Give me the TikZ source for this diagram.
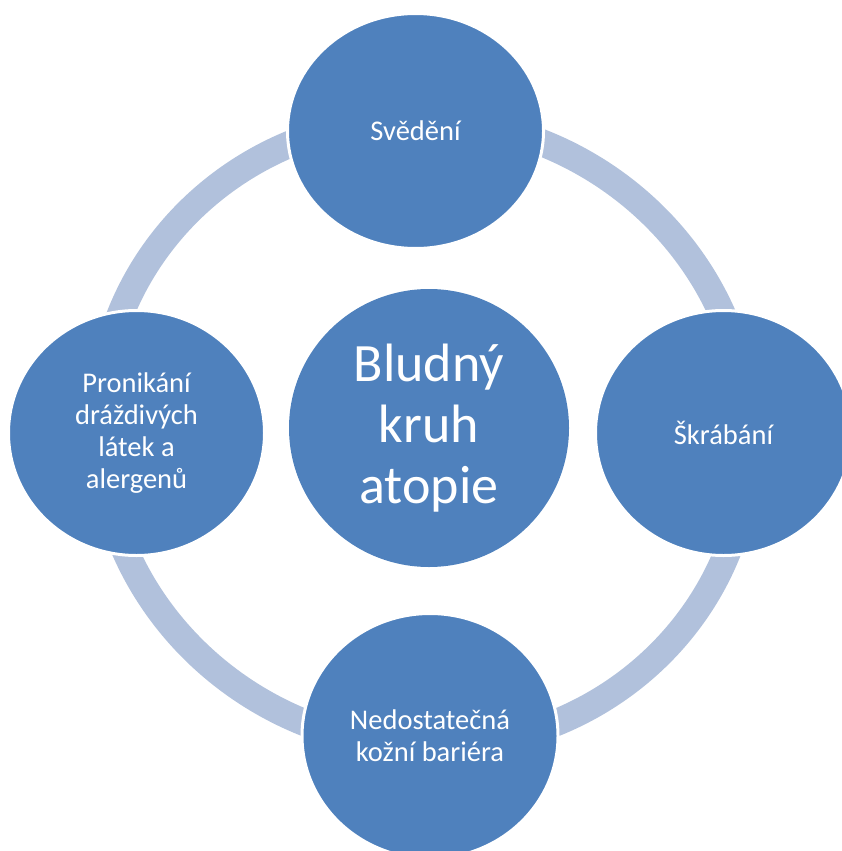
\documentclass[tikz,border=0pt]{standalone}
\usepackage{fontspec}
\setmainfont{Carlito}
\usetikzlibrary{shapes.geometric}
\definecolor{kruhblue}{RGB}{79,129,189}
\definecolor{ringblue}{RGB}{177,193,220}

\begin{document}
\begin{tikzpicture}[x=1pt, y=-1pt,
        bubble/.style={ellipse, fill=kruhblue, draw=white, line width=3pt,
            inner sep=0pt, text=white, align=center,
            font=\fontsize{28.5}{32.2}\selectfont},
        ringline/.style={draw=ringblue, line width=27pt}]
                \useasboundingbox (0,0) rectangle (842,851);
                % the ring under the bubbles
                \begin{scope}[shift={(424,433)}, xslant=-0.022]
                    \draw[ringline] (0,0) ellipse [x radius=325pt, y radius=314pt];
                \end{scope}
                % centre
                \node[bubble, draw=none, minimum width=280pt, minimum height=278pt,
                    font=\fontsize{54}{61}\selectfont] (kruh) at (429,428) {Bludný\\kruh\\atopie};
                % the four steps
                \foreach \name/\x/\y/\h/\txt in {
                        sved/415.5/131/235/Svědění,
                        skrab/723.5/433/245/Škrábání,
                        bariera/430/736/245/{Nedostatečná\\kožní bariéra},
                        pronik/136.5/433/245/{Pronikání\\dráždivých\\látek a\\alergenů}}{
                    \node[bubble, minimum width=256pt, minimum height=\h pt] (\name) at (\x,\y) {\txt};
                }
            \end{tikzpicture}
\end{document}
